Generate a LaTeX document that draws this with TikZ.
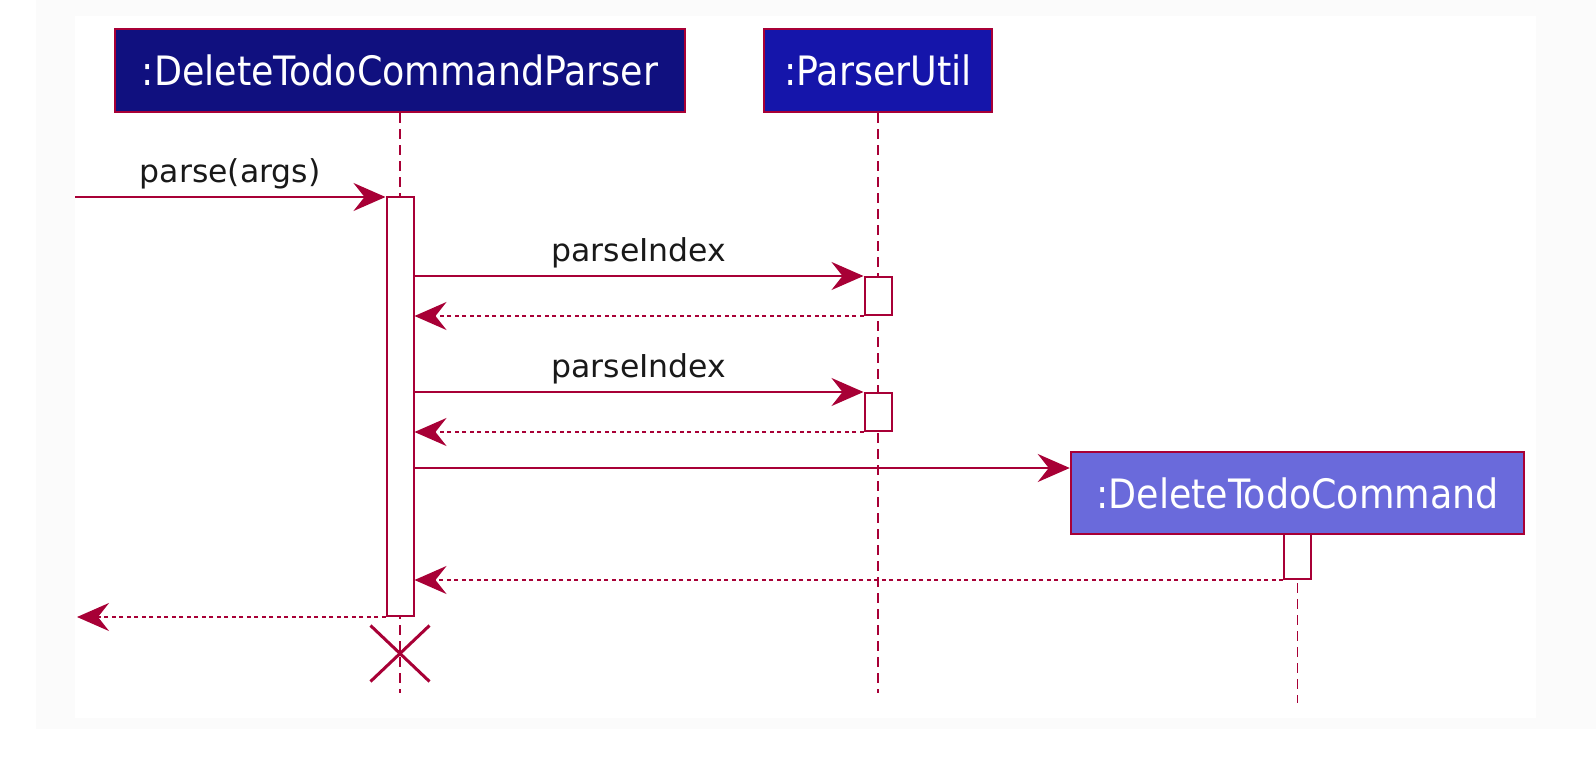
\documentclass[tikz,border=0pt]{standalone}
\usepackage{fontspec}
\setmainfont{DejaVu Sans}
\newfontfamily\partfont{DejaVu Sans Condensed}
\usetikzlibrary{arrows.meta,shapes.misc}
\definecolor{umlred}{HTML}{A80036}
\definecolor{navyfill}{HTML}{10107F}
\definecolor{bluefill}{HTML}{1515AA}
\definecolor{slatefill}{HTML}{6A6ADB}
\definecolor{frame}{HTML}{FBFBFB}
\tikzset{
  part/.style={draw=umlred, line width=2.5pt, text=white, inner sep=0pt,
    minimum height=83pt, font=\partfont\fontsize{40.5}{48}\selectfont},
  life/.style={draw=umlred, line width=1.5pt, dash pattern=on 10pt off 6pt},
  act/.style={draw=umlred, fill=white, line width=2pt, minimum width=27pt, inner sep=0pt},
  msg/.style={draw=umlred, line width=2pt, -{Stealth[length=32pt,width=28pt,inset=11pt]}},
  ret/.style={msg, dash pattern=on 4pt off 3.5pt},
  lbl/.style={font=\fontsize{31.5}{36}\selectfont, text=black!90, anchor=base, yshift=14.5pt}
}
\begin{document}
\begin{tikzpicture}[x=1pt,y=-1pt]
\useasboundingbox (0,0) rectangle (1596,768);
\fill[frame] (36,0) rectangle (1596,729);
\fill[white] (75,16) rectangle (1536,718);
% participants
\node[part, fill=navyfill, minimum width=570pt] (parser) at (400,70.5) {:DeleteTodoCommandParser};
\node[part, fill=bluefill, minimum width=228pt] (util) at (878,70.5) {:ParserUtil};
\node[part, fill=slatefill, minimum width=453pt, minimum height=82pt] (cmd) at (1297.5,493) {:DeleteTodoCommand};
% lifelines
\coordinate (pend) at (400,693);
\coordinate (uend) at (878,693);
\coordinate (cend) at (1297.5,703);
\draw[life] (parser.south) -- (pend);
\draw[life] (util.south) -- (uend);
\draw[life] (cmd.south) -- (cend);
% activations
\node[act, minimum height=419pt] (a1) at (400,406.5) {};
\node[act, minimum height=38pt] (u1) at (878,296) {};
\node[act, minimum height=38pt] (u2) at (878,412) {};
\node[act, minimum height=45pt] (c1) at (1297.5,556.5) {};
\node[cross out, draw=umlred, line width=3pt, minimum width=56pt, minimum height=53pt, inner sep=0pt] (kill) at (400,653.5) {};
% messages
\coordinate (caller) at (75,197);
\coordinate (back) at (77,616);
\coordinate (newcmd) at ([yshift=25pt]cmd.west);
\draw[msg] (caller) -- (caller -| a1.west) node[lbl, midway] {parse(args)};
\draw[msg] (a1.east |- u1.north) -- (u1.north west) node[lbl, midway] {parseIndex};
\draw[ret] (u1.south west) -- (a1.east |- u1.south);
\draw[msg] (a1.east |- u2.north) -- (u2.north west) node[lbl, midway] {parseIndex};
\draw[ret] (u2.south west) -- (a1.east |- u2.south);
\draw[msg] (a1.east |- newcmd) -- (newcmd);
\draw[ret] (c1.south west) -- (a1.east |- c1.south);
\draw[ret] (a1.south west) -- (back |- a1.south west);
\end{tikzpicture}
\end{document}
